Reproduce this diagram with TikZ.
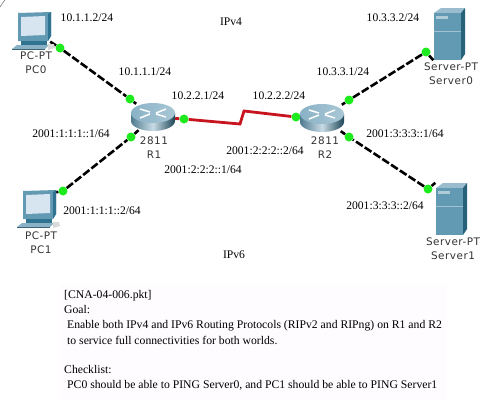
\documentclass[tikz,border=0pt]{standalone}
\usepackage{fontspec}
\setmainfont{Liberation Serif}
\newfontfamily\devfont[LetterSpace=5]{DejaVu Sans}
\usetikzlibrary{positioning,backgrounds}
\definecolor{pcblue}{HTML}{6299B3}
\definecolor{pcdark}{HTML}{2F7390}
\definecolor{pcscreen}{HTML}{D6E5F0}
\definecolor{linkred}{HTML}{C8141E}
\definecolor{portgreen}{HTML}{1EEB1E}
\definecolor{notebg}{HTML}{FEFCFE}
\tikzset{
  devnode/.style={inner sep=0pt, minimum width=#1},
  portdot/.style={circle, fill=portgreen, inner sep=0pt, minimum size=9pt},
  addr/.style={font=\fontsize{11.6}{14}\selectfont, inner sep=0pt},
  devlab/.style={font=\devfont\fontsize{10.4}{14}\selectfont, text=black!80, align=center, inner sep=0pt},
  note/.style={font=\fontsize{11.7}{14}\selectfont, anchor=west, inner sep=0pt},
  ethlink/.style={line width=2.6pt, dash pattern=on 8pt off 2.5pt},
  serlink/.style={line width=2.8pt, draw=linkred},
  pcicon/.pic={
    \fill[pcblue] (0,1) -- (33,0) -- (33,24) -- (30,29) -- (0,29) -- cycle;
    \fill[pcdark] (30,2) -- (33,0) -- (33,24) -- (30,29) -- cycle;
    \fill[pcscreen] (3,5) -- (27,4) -- (27,23) -- (3,24) -- cycle;
    \fill[pcdark] (3,29) -- (29,29) -- (29,33) -- (3,33) -- cycle;
    \fill[pcblue!75!white] (-1,33) -- (31,33) -- (27,37) -- (-6,37) -- cycle;
    \fill[black!35!pcblue] (-6,37) -- (27,37) -- (27,38) -- (-6,38) -- cycle;
    \fill[black!15] (30,32) -- (36,32) -- (37,36) -- (30,38) -- cycle;
  },
  servericon/.pic={
    \fill[pcblue!65!white] (0,5) -- (7,0) -- (31,0) -- (27,5) -- cycle;
    \fill[pcblue] (0,5) -- (27,5) -- (27,52) -- (0,52) -- cycle;
    \fill[pcdark!85!black] (27,5) -- (31,0) -- (31,46) -- (27,52) -- cycle;
    \fill[pcblue!50!white] (2,8) rectangle (14,11);
    \draw[pcblue!60!white, line width=.5pt] (0,23) -- (27,23);
  },
  routericon/.pic={
    \path[left color=pcblue!80!black, right color=pcdark!60!black, middle color=pcblue!35!white]
      (-22,-4) -- (-22,4) arc[start angle=180, end angle=0, x radius=22, y radius=10]
      -- (22,-4) -- cycle;
    \path[left color=pcblue!75!white, right color=pcblue!55!white]
      (0,-4) ellipse[x radius=22, y radius=10];
    \draw[white, line width=1.5pt] (-13,-8) -- (-3,-5) (13,-8) -- (3,-4)
      (-13,1) -- (-3,-3) (13,0) -- (3,-3);
  },
}
\begin{document}
\begin{tikzpicture}[x=1pt, y=-1pt]
  \useasboundingbox (0,0) rectangle (500,408);
  % devices
  \node[devnode=34pt, minimum height=29pt] (pc0) at (33,27) {};
  \node[devnode=34pt, minimum height=29pt] (pc1) at (39,207) {};
  \node[devnode=31pt, minimum height=52pt] (server0) at (449,34) {};
  \node[devnode=31pt, minimum height=52pt] (server1) at (451,209) {};
  \node[devnode=44pt, minimum height=26pt] (r1) at (153,117) {};
  \node[devnode=44pt, minimum height=26pt] (r2) at (322,118) {};
  % ports
  \node[portdot] (p0a) at (60,48) {};
  \node[portdot] (p0b) at (130,99) {};
  \node[portdot] (p1a) at (63,191) {};
  \node[portdot] (p1b) at (131,137) {};
  \node[portdot] (s0a) at (426,52) {};
  \node[portdot] (s0b) at (349,100) {};
  \node[portdot] (s1a) at (428,189) {};
  \node[portdot] (s1b) at (349,137) {};
  \node[portdot] (r1s) at (184,119) {};
  \node[portdot] (r2s) at (296,117) {};
  % links
  \begin{scope}[on background layer]
    \fill[notebg] (60,285) rectangle (446,400);
    \draw[black!70] (0,7) .. controls (2,4) and (3,2) .. (5,0);
    \draw[ethlink] (pc0.south east) -- (p0a) -- (p0b) -- (r1);
    \draw[ethlink] (pc1.north east) -- (p1a) -- (p1b) -- (r1);
    \draw[ethlink] (server0.south west) -- (s0a) -- (s0b) -- (r2);
    \draw[ethlink] (server1.north west) -- (s1a) -- (s1b) -- (r2);
    \coordinate (zig1) at (240,124);
    \coordinate (zig2) at (244,111);
    \draw[serlink] (r1) -- (r1s) -- (zig1) -- (zig2) -- (r2s) -- (r2);
  \end{scope}
  % icons
  \pic at (18,12) {pcicon};
  \pic at (23,190) {pcicon};
  \pic at (434,8) {servericon};
  \pic at (436,183) {servericon};
  \pic at (153,117) {routericon};
  \pic at (322,118) {routericon};
  % device labels
  \node[devlab] (pc0lab) at (36,63) {PC-PT\\PC0};
  \node[devlab] (pc1lab) at (41,243) {PC-PT\\PC1};
  \node[devlab] (server0lab) at (451,74) {Server-PT\\Server0};
  \node[devlab] (server1lab) at (453,249) {Server-PT\\Server1};
  \node[devlab] (r1lab) at (154,148) {2811\\R1};
  \node[devlab] (r2lab) at (325,148) {2811\\R2};
  % addresses
  \node[addr] (ipv4) at (231,22) {IPv4};
  \node[addr] (ipv6) at (234,255) {IPv6};
  \node[addr] (a1) at (87,18) {10.1.1.2/24};
  \node[addr] (a2) at (145,72) {10.1.1.1/24};
  \node[addr] (a3) at (198,96) {10.2.2.1/24};
  \node[addr] (a4) at (279,96) {10.2.2.2/24};
  \node[addr] (a5) at (343,72) {10.3.3.1/24};
  \node[addr] (a6) at (393,18) {10.3.3.2/24};
  \node[addr] (a7) at (71,134) {2001:1:1:1::1/64};
  \node[addr] (a8) at (102,211) {2001:1:1:1::2/64};
  \node[addr] (a9) at (265,151) {2001:2:2:2::2/64};
  \node[addr] (a10) at (203,170) {2001:2:2:2::1/64};
  \node[addr] (a11) at (405,134) {2001:3:3:3::1/64};
  \node[addr] (a12) at (385,206) {2001:3:3:3::2/64};
  % task text
  \node[note] (n1) at (64,296) {[CNA-04-006.pkt]};
  \node[note] (n2) at (64,310) {Goal:};
  \node[note] (n3) at (67,326) {Enable both IPv4 and IPv6 Routing Protocols (RIPv2 and RIPng) on R1 and R2};
  \node[note] (n4) at (67,340) {to service full connectivities for both worlds.};
  \node[note] (n5) at (64,370) {Checklist:};
  \node[note] (n6) at (67,385) {PC0 should be able to PING Server0, and PC1 should be able to PING Server1};
\end{tikzpicture}
\end{document}
